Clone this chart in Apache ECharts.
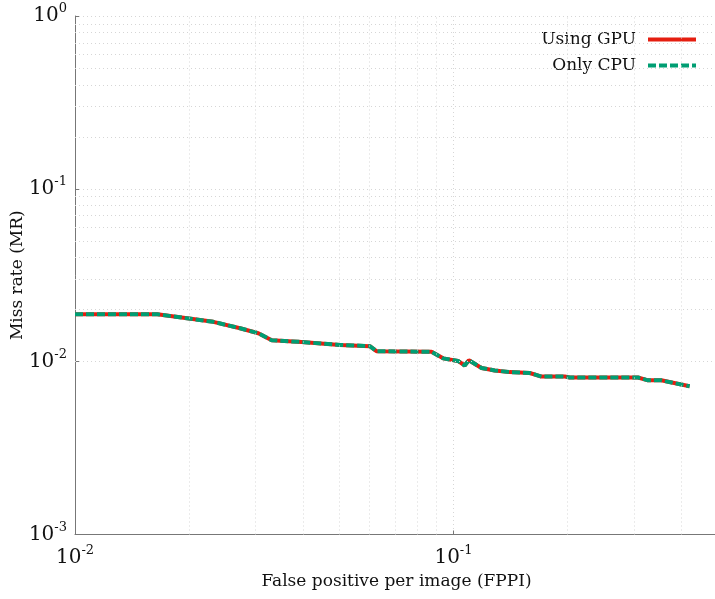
<!DOCTYPE html>
<html>
<head>
<meta charset="utf-8">
<script src="https://cdn.jsdelivr.net/npm/echarts@6/dist/echarts.min.js"></script>
<style>
  html, body { margin: 0; padding: 0; background: #fff; }
  #chart { width: 715px; height: 599px; }
</style>
</head>
<body>
<div id="chart"></div>
<script>
// Data (log-log ROC-like curve)
const fppi = [0.01, 0.0165, 0.0232, 0.0273, 0.0305, 0.0331, 0.0397, 0.0501, 0.0601, 0.0626,
              0.0875, 0.0939, 0.1028, 0.1071, 0.1098, 0.1186, 0.1285, 0.1409, 0.1591,
              0.1708, 0.1967, 0.2028, 0.3073, 0.3266, 0.354, 0.4207];
const gpuMissRate = [0.0188, 0.0188, 0.0170, 0.0156, 0.0146, 0.0133, 0.0130, 0.0125, 0.0123, 0.0115,
                     0.0114, 0.01045, 0.0101, 0.0095, 0.0102, 0.0092, 0.0089, 0.0087, 0.0086,
                     0.0082, 0.0082, 0.0081, 0.0081, 0.0078, 0.0078, 0.0072];
const cpuMissRate = gpuMissRate.slice();
const seriesNames = ['Using GPU', 'Only CPU'];
const xMinorGrid = [0.02, 0.03, 0.04, 0.05, 0.06, 0.07, 0.08, 0.09, 0.2, 0.3, 0.4];
const yMinorGrid = [];
[0.001, 0.01, 0.1].forEach(function(d) {
    for (let k = 2; k <= 9; k++) yMinorGrid.push(+(d * k).toPrecision(3));
});

const FONT = 'DejaVu Serif';
const gridColor = '#d6d6d6';
const gridDash = [1, 3];

function powLabel(value) {
    const e = Math.round(Math.log10(value));
    if (Math.abs(Math.log10(value) - e) > 1e-6) return '';
    return '10{sup|' + e + '}';
}

const labelRich = {
    sup: { fontSize: 13, fontFamily: FONT, color: '#111', padding: [0, 0, 14, 0] }
};

const chart = echarts.init(document.getElementById('chart'));

function zip(xs, ys) {
    return xs.map((x, i) => [x, ys[i]]);
}

const option = {
    animation: false,
    backgroundColor: '#fff',
    grid: { left: 75, top: 16, width: 643, bottom: 64.5, containLabel: false, outerBoundsMode: 'none' },
    legend: {
        orient: 'vertical',
        right: 12,
        top: 26,
        align: 'right',
        itemWidth: 48,
        itemHeight: 14,
        itemGap: 9,
        itemStyle: { opacity: 0 },
        lineStyle: { width: 4 },
        data: seriesNames,
        textStyle: { fontFamily: FONT, fontSize: 17, color: '#111', padding: [0, 7, 0, 0] }
    },
    xAxis: {
        type: 'log',
        logBase: 10,
        min: 0.01,
        max: 0.5,
        name: 'False positive per image (FPPI)',
        nameLocation: 'middle',
        nameGap: 39,
        nameMoveOverlap: false,
        nameTextStyle: { fontFamily: FONT, fontSize: 17, color: '#111' },
        axisLine: { lineStyle: { color: '#777', width: 1 } },
        axisTick: { show: true, inside: true, length: 4, lineStyle: { color: '#777' } },
        axisLabel: {
            formatter: powLabel,
            fontFamily: FONT, fontSize: 20, color: '#111', margin: 10,
            showMaxLabel: false,
            rich: labelRich
        },
        splitLine: { show: true, lineStyle: { color: gridColor, type: gridDash } }
    },
    yAxis: {
        type: 'log',
        logBase: 10,
        min: 0.001,
        max: 1,
        name: 'Miss rate (MR)',
        nameLocation: 'middle',
        nameGap: 49,
        nameMoveOverlap: false,
        nameTextStyle: { fontFamily: FONT, fontSize: 17, color: '#111' },
        axisLine: { lineStyle: { color: '#777', width: 1 } },
        axisTick: { show: true, inside: true, length: 4, lineStyle: { color: '#777' } },
        axisLabel: {
            formatter: powLabel,
            fontFamily: FONT, fontSize: 20, color: '#111', margin: 8,
            rich: labelRich
        },
        splitLine: { show: true, lineStyle: { color: gridColor, type: gridDash } }
    },
    series: [
        {
            name: 'grid',
            type: 'line',
            data: [],
            z: 0,
            silent: true,
            markLine: {
                silent: true,
                symbol: ['none', 'none'],
                label: { show: false },
                lineStyle: { color: gridColor, type: gridDash, width: 1 },
                data: xMinorGrid.map(v => ({ xAxis: v }))
                    .concat(yMinorGrid.map(v => ({ yAxis: v })))
            }
        },
        {
            name: seriesNames[0],
            type: 'line',
            data: zip(fppi, gpuMissRate),
            symbol: 'none',
            z: 3,
            lineStyle: { color: '#e51e10', width: 4 },
            itemStyle: { color: '#e51e10' }
        },
        {
            name: seriesNames[1],
            type: 'line',
            data: zip(fppi, cpuMissRate),
            symbol: 'none',
            z: 4,
            lineStyle: { color: '#009e73', width: 4, type: [8, 3] },
            itemStyle: { color: '#009e73' }
        }
    ]
};

chart.setOption(option);
</script>
</body>
</html>
